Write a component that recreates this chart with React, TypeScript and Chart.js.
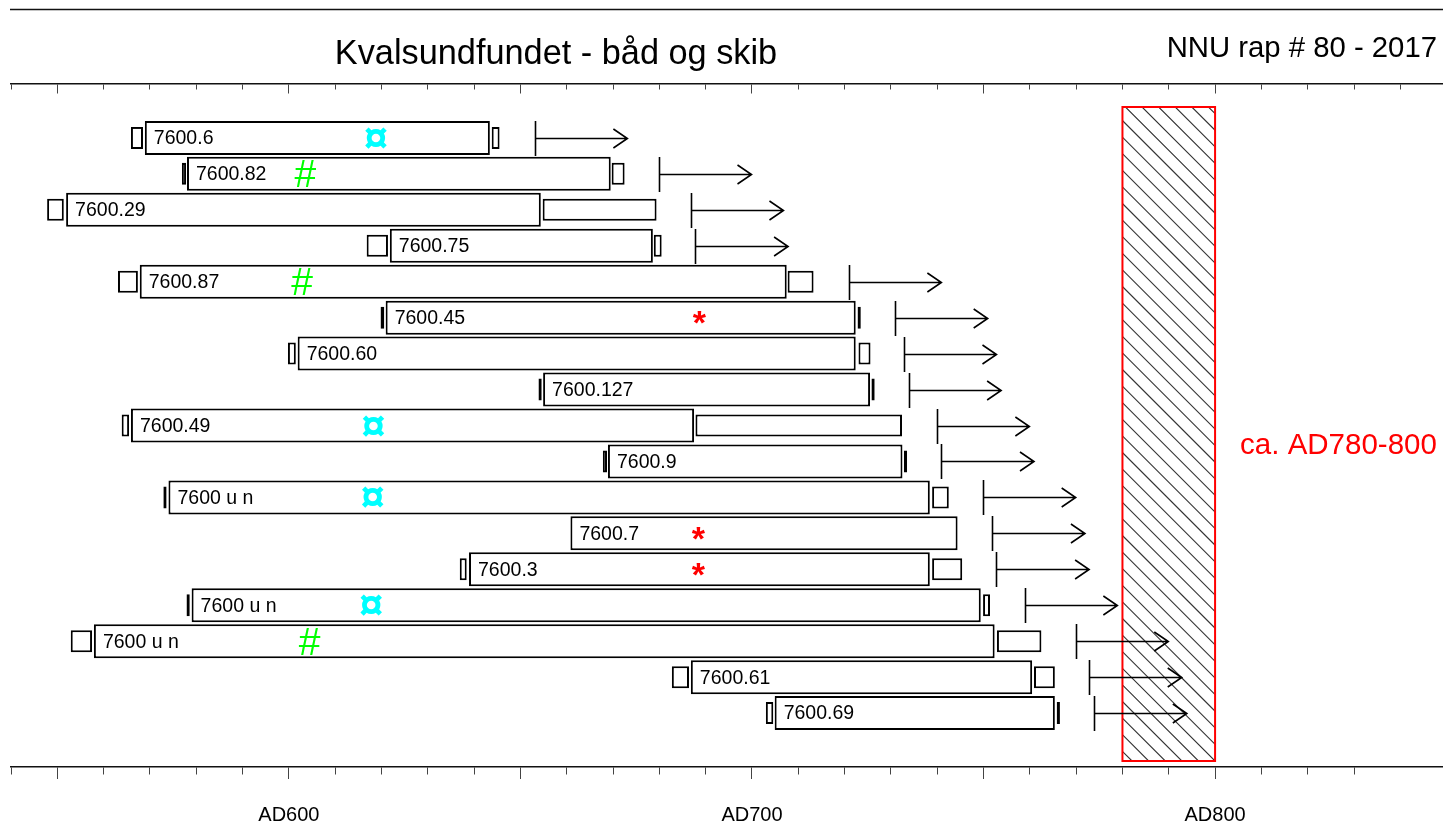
import React, { useEffect, useRef } from 'react';
import { Chart, registerables } from 'chart.js';

Chart.register(...registerables);

const FONT = '"Liberation Sans", Arial, Helvetica, sans-serif';

// ---------------- data ----------------
const titleText = 'Kvalsundfundet - båd og skib';
const reportText = 'NNU rap # 80 - 2017';

const sampleLabels = [
  '7600.6', '7600.82', '7600.29', '7600.75', '7600.87', '7600.45', '7600.60', '7600.127',
  '7600.49', '7600.9', '7600 u n', '7600.7', '7600.3', '7600 u n', '7600 u n', '7600.61', '7600.69',
];

// small box before the main bar (start, end) in years AD
const leftBoxes: ([number, number] | null)[] = [
  [565.9, 568.5], [576.9, 577.8], [547.8, 551.4], [616.8, 621.4], [563.1, 567.4],
  [619.8, 620.6], [599.8, 601.5], [653.9, 654.6], [563.9, 565.5], [667.8, 668.7],
  [572.9, 573.6], null, [636.9, 638.4], [577.9, 578.6], [552.9, 557.5],
  [682.7, 686.4], [703.0, 704.6],
];

// main measured series (start, end) in years AD
const mainBars: [number, number][] = [
  [568.9, 643.4], [578.0, 669.5], [551.9, 654.4], [621.8, 678.6], [567.8, 707.5],
  [620.9, 722.4], [601.9, 722.4], [654.9, 725.5], [565.9, 687.5], [668.9, 732.5],
  [574.0, 738.4], [660.8, 744.4], [638.9, 738.4], [579.0, 749.4], [557.9, 752.4],
  [686.8, 760.5], [704.9, 765.4],
];

// box after the main bar (start, end) in years AD
const rightBoxes: ([number, number] | null)[] = [
  [643.8, 645.5], [669.7, 672.5], [654.8, 679.4], [678.8, 680.5], [707.7, 713.3],
  [722.8, 723.5], [723.0, 725.6], [725.8, 726.5], [687.8, 732.4], [732.8, 733.5],
  [738.9, 742.5], null, [738.9, 745.4], [749.9, 751.4], [752.9, 762.5],
  [760.9, 765.4], [765.8, 766.5],
];

// felling date marker (vertical bar with arrow "after")
const fellingDates = [
  653.1, 679.9, 686.8, 687.8, 720.9, 730.9, 732.8, 733.8, 739.9, 740.9,
  749.9, 751.9, 752.8, 758.9, 769.9, 772.8, 773.9,
];
const arrowSpanYears = 20;

const markerSymbols = ['¤', '#', '', '', '#', '*', '', '', '¤', '', '¤', '*', '*', '¤', '#', '', ''];
const markerYears: (number | null)[] = [
  618.8, 603.6, null, null, 602.9, 688.7, null, null, 618.3, null,
  618.1, 688.5, 688.5, 617.8, 604.5, null, null,
];

const datingZone = [780, 800];
const zoneLabel = 'ca. AD780-800';

const axisMin = 540;
const axisMax = 849;
const tickStep = 10;
const majorTickStep = 50;
const labelStep = 100;

// ---------------- styles ----------------
const markerStyles: Record<string, { font: string; color: string }> = {
  '¤': { font: `bold 43px ${FONT}`, color: '#00ffff' },
  '#': { font: `39px ${FONT}`, color: '#00ff00' },
  '*': { font: `bold 34px ${FONT}`, color: '#ff0000' },
};

const toPoints = (ranges: ([number, number] | null)[]) =>
  ranges.flatMap((r, i) => (r ? [{ x: r, y: i }] : []));

const decorPlugin = {
  id: 'decor',
  beforeDraw(chart: any) {
    const { ctx, chartArea } = chart;
    ctx.save();
    ctx.fillStyle = '#ffffff';
    ctx.fillRect(0, 0, chart.width, chart.height);
    ctx.strokeStyle = '#111';
    ctx.lineWidth = 1.5;
    ctx.beginPath();
    ctx.moveTo(chartArea.left - 1, 9.5);
    ctx.lineTo(chart.width, 9.5);
    ctx.stroke();
    ctx.fillStyle = '#000';
    ctx.textBaseline = 'alphabetic';
    ctx.font = `34.3px ${FONT}`;
    ctx.textAlign = 'center';
    ctx.fillText(titleText, 556, 64);
    ctx.font = `29.3px ${FONT}`;
    ctx.textAlign = 'right';
    ctx.fillText(reportText, 1437, 57);
    ctx.restore();
  },
  beforeDatasetsDraw(chart: any) {
    const { ctx, chartArea, scales } = chart;
    const xs = scales.x;
    const x1 = xs.getPixelForValue(datingZone[0]);
    const x2 = xs.getPixelForValue(datingZone[1]);
    const y1 = chartArea.top + 23;
    const y2 = chartArea.bottom - 6;
    const h = y2 - y1;
    const step = 16.6;
    ctx.save();
    ctx.beginPath();
    ctx.rect(x1, y1, x2 - x1, y2 - y1);
    ctx.clip();
    ctx.strokeStyle = '#333';
    ctx.lineWidth = 1.1;
    ctx.beginPath();
    for (let k = x1 + 3 - Math.ceil(h / step) * step; k < x2; k += step) {
      ctx.moveTo(k, y1);
      ctx.lineTo(k + h, y1 + h);
    }
    ctx.stroke();
    ctx.restore();
    ctx.save();
    ctx.strokeStyle = '#ff0000';
    ctx.lineWidth = 2;
    ctx.strokeRect(x1, y1, x2 - x1, y2 - y1);
    ctx.restore();
  },
  afterDatasetsDraw(chart: any) {
    const { ctx, chartArea, scales } = chart;
    const xs = scales.x;
    const ys = scales.y;
    ctx.save();
    // felling lines and arrows
    ctx.strokeStyle = '#000';
    ctx.lineWidth = 1.6;
    fellingDates.forEach((d, i) => {
      const x = Math.round(xs.getPixelForValue(d)) + 0.5;
      const y = Math.round(ys.getPixelForValue(i)) + 0.5;
      const tip = xs.getPixelForValue(d + arrowSpanYears);
      ctx.beginPath();
      ctx.moveTo(x, y - 17.5);
      ctx.lineTo(x, y + 17.5);
      ctx.moveTo(x, y);
      ctx.lineTo(tip, y);
      ctx.moveTo(tip - 14, y - 9.5);
      ctx.lineTo(tip, y);
      ctx.lineTo(tip - 14, y + 9.5);
      ctx.stroke();
    });
    // sample labels inside main bars
    ctx.fillStyle = '#000';
    ctx.font = `19.5px ${FONT}`;
    ctx.textAlign = 'left';
    ctx.textBaseline = 'middle';
    sampleLabels.forEach((t, i) => {
      ctx.fillText(t, xs.getPixelForValue(mainBars[i][0]) + 9, ys.getPixelForValue(i) + 1);
    });
    // markers
    markerSymbols.forEach((s, i) => {
      const yr = markerYears[i];
      if (!s || yr == null) return;
      const st = markerStyles[s];
      ctx.font = st.font;
      ctx.fillStyle = st.color;
      ctx.textAlign = 'left';
      ctx.textBaseline = 'alphabetic';
      const m = ctx.measureText(s);
      const cx = xs.getPixelForValue(yr);
      const cy = ys.getPixelForValue(i);
      const x = cx - (m.actualBoundingBoxRight - m.actualBoundingBoxLeft) / 2;
      const yb = cy + (m.actualBoundingBoxAscent - m.actualBoundingBoxDescent) / 2;
      ctx.fillText(s, x, yb);
    });
    // zone label
    ctx.fillStyle = '#ff0000';
    ctx.font = `29.5px ${FONT}`;
    ctx.textAlign = 'left';
    ctx.textBaseline = 'middle';
    ctx.fillText(zoneLabel, xs.getPixelForValue(datingZone[1]) + 25, chartArea.top + 362);
    ctx.restore();
  },
};

const barBase = {
  backgroundColor: '#ffffff',
  borderColor: '#000000',
  borderWidth: 2,
  borderSkipped: false as const,
  grouped: false,
  inflateAmount: 0,
};

const keepSteps = (axis: any) => {
  axis.ticks = axis.ticks.filter((t: any) => Math.abs(t.value % tickStep) < 1e-6);
};

const isMajor = (c: any) => c && c.tick && Math.abs(c.tick.value % majorTickStep) < 1e-6;

export default function App() {
  const canvasRef = useRef<HTMLCanvasElement | null>(null);

  useEffect(() => {
    const canvas = canvasRef.current;
    if (!canvas) return;
    const chart = new Chart(canvas, {
      type: 'bar',
      data: {
        datasets: [
          { ...barBase, label: 'main', data: toPoints(mainBars), barThickness: 34 } as any,
          { ...barBase, label: 'left', data: toPoints(leftBoxes), barThickness: 22 } as any,
          { ...barBase, label: 'right', data: toPoints(rightBoxes), barThickness: 22 } as any,
        ],
      },
      options: {
        indexAxis: 'y',
        animation: false,
        responsive: false,
        maintainAspectRatio: false,
        events: [],
        layout: { padding: { top: 84, left: 11, right: 1, bottom: 0 } },
        plugins: {
          legend: { display: false },
          tooltip: { enabled: false },
          title: { display: false },
        },
        scales: {
          y: {
            type: 'linear',
            min: -1.5,
            max: 17.5,
            reverse: true,
            offset: false,
            display: false,
            grid: { offset: false },
          },
          x: {
            type: 'linear',
            position: 'bottom',
            min: axisMin,
            max: axisMax,
            afterBuildTicks: keepSteps,
            afterFit: (s: any) => {
              s.height = 57;
            },
            border: { display: true, color: '#111', width: 1.5 },
            grid: {
              display: true,
              drawOnChartArea: false,
              drawTicks: true,
              tickLength: 12,
              tickColor: '#444',
              tickWidth: 1,
              tickBorderDash: (c: any) => (isMajor(c) ? [] : [7, 40]),
            } as any,
            ticks: {
              stepSize: tickStep,
              autoSkip: false,
              maxRotation: 0,
              padding: 6,
              color: '#000',
              font: { family: FONT, size: 20, lineHeight: 3.0 },
              callback: (v: any) => (Number(v) % labelStep === 0 ? 'AD' + v : ''),
            },
          },
          x2: {
            type: 'linear',
            position: 'top',
            min: axisMin,
            max: axisMax,
            afterBuildTicks: keepSteps,
            afterFit: (s: any) => {
              s.height = 0;
            },
            border: {
              display: true,
              color: '#111',
              width: 1.5,
              dash: (c: any) => (c && c.tick ? (isMajor(c) ? [9, 4000] : [5, 4000]) : []),
            } as any,
            grid: {
              display: true,
              drawOnChartArea: true,
              drawTicks: false,
              color: '#444',
              lineWidth: 1,
            },
            ticks: { display: false, stepSize: tickStep },
          },
        },
      } as any,
      plugins: [decorPlugin],
    });
    return () => chart.destroy();
  }, []);

  return (
    <div style={{ position: 'fixed', left: 0, top: 0, width: 1443, height: 824, background: '#fff' }}>
      <canvas
        ref={canvasRef}
        width={1443}
        height={824}
        style={{ display: 'block', width: 1443, height: 824 }}
      />
    </div>
  );
}
